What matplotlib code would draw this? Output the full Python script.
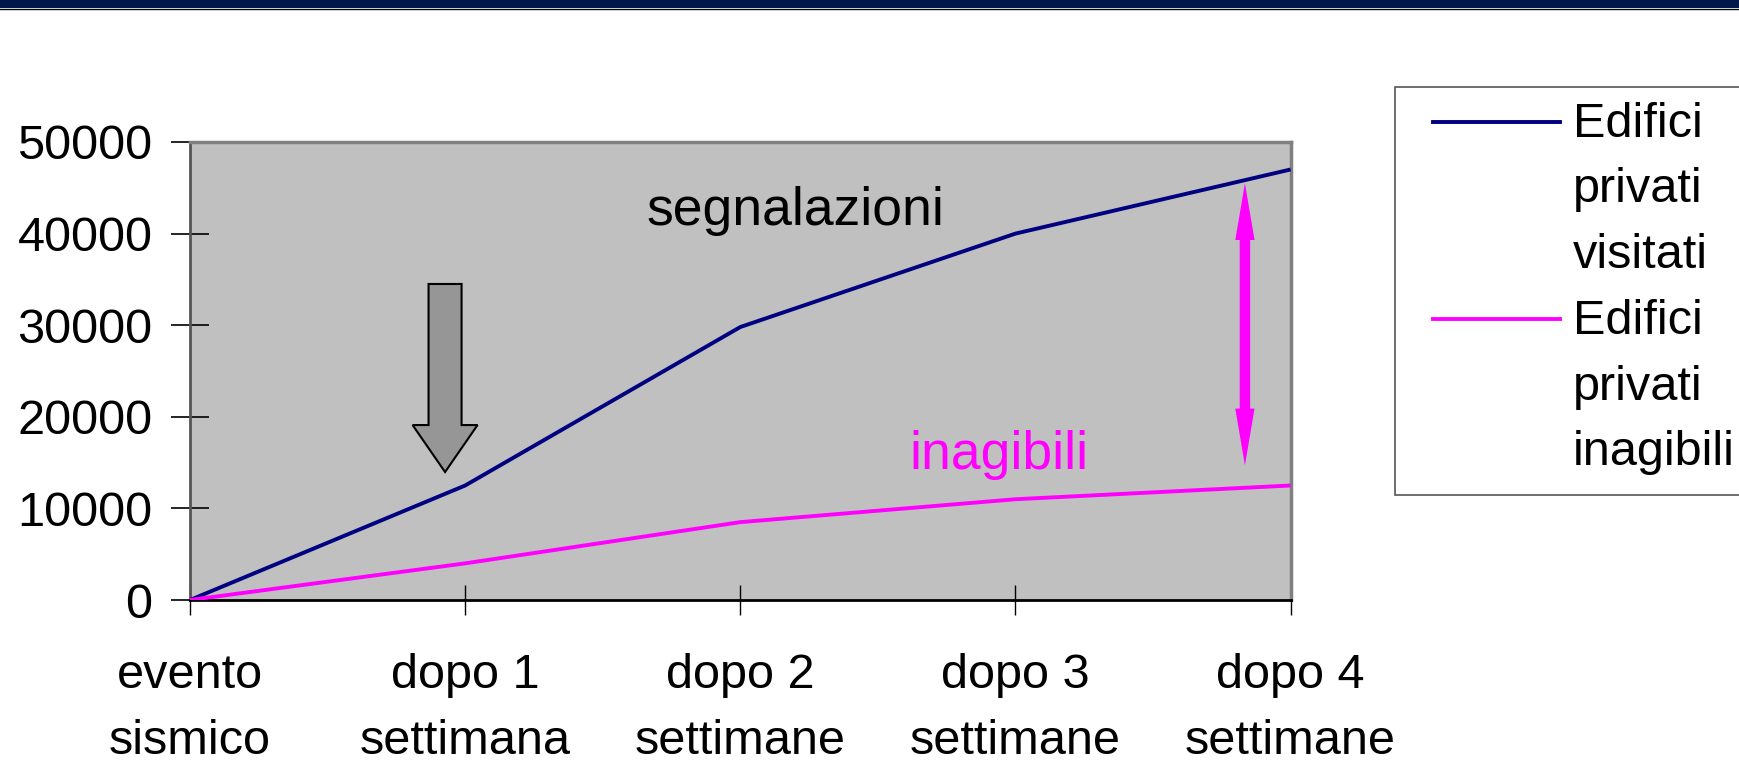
import matplotlib
matplotlib.use("Agg")
import matplotlib.pyplot as plt
from matplotlib.patches import Rectangle, Polygon
from matplotlib.lines import Line2D

plt.rcParams['font.family'] = ['Liberation Sans', 'DejaVu Sans']

categories = ["evento\nsismico", "dopo 1\nsettimana", "dopo 2\nsettimane",
              "dopo 3\nsettimane", "dopo 4\nsettimane"]
visitati = [0, 12500, 29800, 40000, 47000]
inagibili = [0, 4000, 8500, 11000, 12500]
yticks = [0, 10000, 20000, 30000, 40000, 50000]
legend_labels = [["Edifici", "privati", "visitati"], ["Edifici", "privati", "inagibili"]]

NAVY = "#000080"
MAGENTA = "#FF00FF"

fig = plt.figure(figsize=(17.4, 7.64), dpi=100)
fig.patch.set_facecolor("white")
W, H = 1740, 764

# top banner
fig.add_artist(Rectangle((0, 1 - 8/H), 1, 8/H, transform=fig.transFigure,
                         facecolor="#001848", edgecolor="none"))
fig.add_artist(Line2D([0, 1], [1 - 8.5/H, 1 - 8.5/H], transform=fig.transFigure,
                      color="black", lw=1))

ax = fig.add_axes([190/W, 164/H, 1100.6/W, 458/H])
ax.set_facecolor("#C0C0C0")
x = list(range(len(categories)))
ax.plot(x, visitati, color=NAVY, lw=2.8, solid_capstyle="butt", zorder=3)
ax.plot(x, inagibili, color=MAGENTA, lw=2.8, solid_capstyle="butt", zorder=3)

ax.set_xlim(0, 4)
ax.set_ylim(0, 50000)
ax.set_yticks(yticks)
ax.set_yticklabels([str(v) for v in yticks], fontsize=35)
ax.set_xticks(x)
ax.set_xticklabels(categories, fontsize=35, linespacing=1.62)
ax.tick_params(axis="y", direction="inout", length=28, width=1.2, color="black", pad=13)
ax.tick_params(axis="x", direction="inout", length=22, width=1.0, color="black", pad=27)

for side in ["top", "right"]:
    ax.spines[side].set_color("#808080")
    ax.spines[side].set_linewidth(2.5)
ax.spines["left"].set_color("#555555")
ax.spines["left"].set_linewidth(2.0)
ax.spines["bottom"].set_color("black")
ax.spines["bottom"].set_linewidth(2.0)

# annotations
ax.text(2.2, 42500, "segnalazioni", fontsize=38.5, color="black", ha="center", va="center", zorder=4)
ax.text(2.94, 15800, "inagibili", fontsize=38.5, color=MAGENTA, ha="center", va="center", zorder=4)

# gray block arrow (down)
xc = 0.927
sw = 0.06
hw = 0.118
y_top, y_base, y_tip = 34500, 19100, 13970
arrow_pts = [(xc - sw, y_top), (xc + sw, y_top), (xc + sw, y_base), (xc + hw, y_base),
             (xc, y_tip), (xc - hw, y_base), (xc - sw, y_base)]
ax.add_patch(Polygon(arrow_pts, closed=True, facecolor="#969696", edgecolor="black",
                     lw=1.5, zorder=4))

# magenta double arrow
mx = 3.834
ytop, ybot = 45500, 14700
head_len = 6200
shw = 0.019
hhw = 0.035
dbl = [(mx, ytop), (mx + hhw, ytop - head_len), (mx + shw, ytop - head_len),
       (mx + shw, ybot + head_len), (mx + hhw, ybot + head_len), (mx, ybot),
       (mx - hhw, ybot + head_len), (mx - shw, ybot + head_len),
       (mx - shw, ytop - head_len), (mx - hhw, ytop - head_len)]
ax.add_patch(Polygon(dbl, closed=True, facecolor=MAGENTA, edgecolor="none", zorder=4))

# legend drawn manually
fig.add_artist(Rectangle((1395/W, 1 - 495/H), (1745 - 1395)/W, (495 - 87)/H,
                         transform=fig.transFigure, facecolor="white",
                         edgecolor="#555555", lw=1.2))
colors = [NAVY, MAGENTA]
firsts = [120, 317]
step = 65.5
for lines, col, ty in zip(legend_labels, colors, firsts):
    fig.add_artist(Line2D([1433/W, 1560/W], [1 - (ty + 2)/H, 1 - (ty + 2)/H],
                          transform=fig.transFigure, color=col, lw=2.8))
    for i, word in enumerate(lines):
        yc = ty + i * step
        fig.text(1573/W, 1 - (yc + 17)/H, word, fontsize=35, ha="left", va="baseline",
                 color="black")

fig.savefig("out.png", dpi=100, facecolor="white")
